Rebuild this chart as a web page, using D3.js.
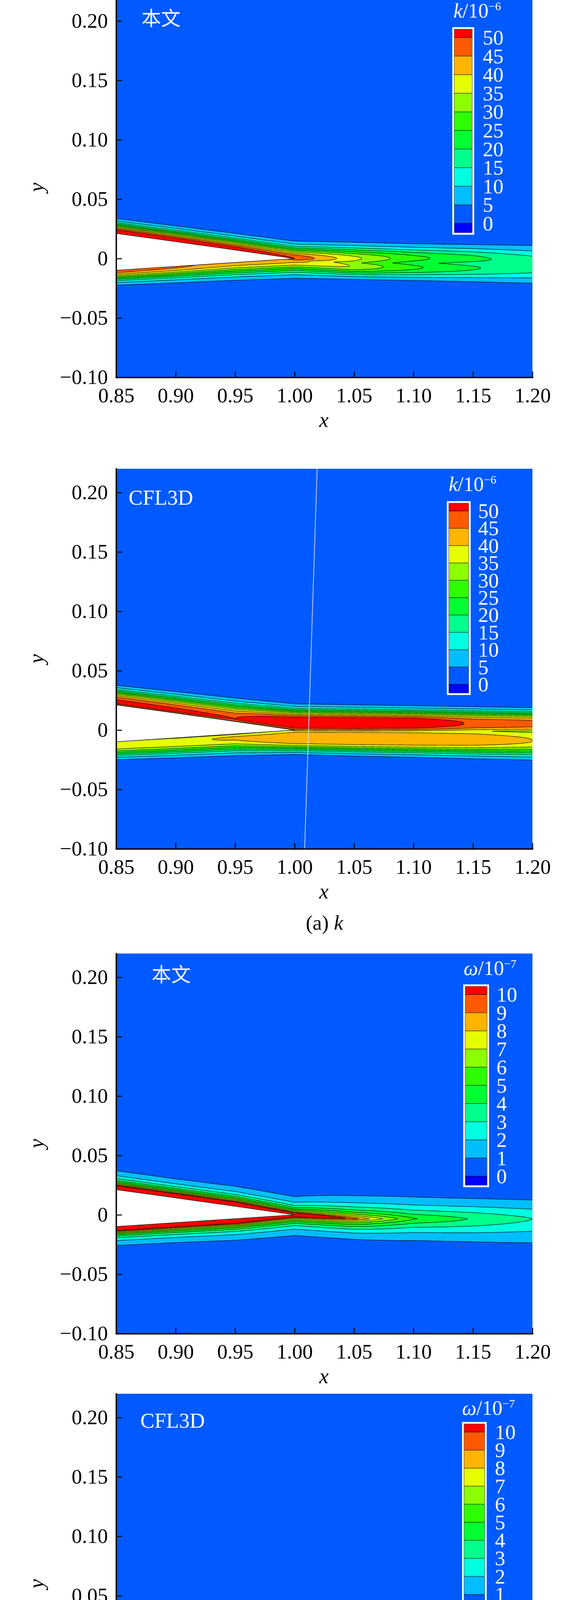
<!DOCTYPE html>
<html>
<head>
<meta charset="utf-8">
<script src="https://cdn.jsdelivr.net/npm/d3@7"></script>
<style>
  body { margin: 0; background: #fff; }
  text { font-family: "Liberation Serif", "Times New Roman", serif; }
</style>
</head>
<body>
<div id="chart"></div>
<script>
// ---- data ----
// x stations where the wake / boundary-layer profiles were read
const stations = [0.85, 0.90, 0.95, 1.00, 1.05, 1.10, 1.15, 1.20];

// trailing part of the airfoil
const foilX     = [0.85, 0.90, 0.95, 1.00];
const foilUpper = [0.0212, 0.0143, 0.0072, 0.0];
const foilLower = [-0.0099, -0.0066, -0.0033, 0.0];

const xTicks = [0.85, 0.90, 0.95, 1.00, 1.05, 1.10, 1.15, 1.20];
const yTicks = [-0.10, -0.05, 0, 0.05, 0.10, 0.15, 0.20];

const kLevels = [5, 10, 15, 20, 25, 30, 35, 40, 45, 50];
const kLegendLabels = [50, 45, 40, 35, 30, 25, 20, 15, 10, 5, 0];
const wLevels = [1, 2, 3, 4, 5, 6, 7, 8, 9, 10];
const wLegendLabels = [10, 9, 8, 7, 6, 5, 4, 3, 2, 1, 0];

// band colours, lowest band (background) first
const bandColors = ["#005AFF", "#00BEFF", "#00FFE1", "#00FF8C", "#00FF32",
                    "#2DFF00", "#8CFF00", "#E6FF00", "#FFB400", "#FF5A00", "#FF0000"];
const underColor = "#0000FF";

// profile parameters per station: peak position, peak value, outer / inner width, exponent
// (a) k, 本文
const kOursQ          = [2, 2, 2, 2, 2, 2, 2, 2];
const kOursUpperY     = [0.0212, 0.0143, 0.0072, 0.0, 0.0, 0.0003, 0.0, -0.002];
const kOursUpperPeak  = [57, 56, 54, 49, 35.5, 25.5, 20.5, 16];
const kOursUpperOut   = [0.0077, 0.0082, 0.0087, 0.0093, 0.0093, 0.009, 0.0092, 0.011];
const kOursUpperIn    = [0.003, 0.003, 0.003, 0.004, 0.009, 0.009, 0.009, 0.01];
const kOursLowerY     = [-0.0099, -0.0066, -0.0033, -0.001, -0.0066, -0.0075, -0.008, -0.008];
const kOursLowerPeak  = [47, 45, 42, 41, 33.5, 25, 19.5, 16];
const kOursLowerOut   = [0.008, 0.0089, 0.0098, 0.0102, 0.0075, 0.0081, 0.0091, 0.0108];
const kOursLowerIn    = [0.003, 0.003, 0.003, 0.004, 0.009, 0.009, 0.009, 0.01];
// (a) k, CFL3D
const kCflQ           = [2.5, 2.5, 2.5, 2.5, 2.5, 2.5, 2.5, 2.5];
const kCflUpperY      = [0.0232, 0.0163, 0.0092, 0.006, 0.0058, 0.0058, 0.0055, 0.0055];
const kCflUpperPeak   = [50.5, 50, 49, 56, 56, 55, 48, 46];
const kCflUpperOut    = [0.010, 0.0111, 0.0123, 0.0109, 0.0105, 0.010, 0.0099, 0.0094];
const kCflUpperIn     = [0.004, 0.004, 0.004, 0.0099, 0.0099, 0.0099, 0.0099, 0.0099];
const kCflLowerY      = [-0.012, -0.0095, -0.0065, -0.0078, -0.0082, -0.0085, -0.0088, -0.009];
const kCflLowerPeak   = [38, 38.2, 39.5, 43, 43.5, 43.5, 42.5, 39];
const kCflLowerOut    = [0.0094, 0.0101, 0.0108, 0.0091, 0.0097, 0.0102, 0.0109, 0.0117];
const kCflLowerIn     = [0.006, 0.006, 0.006, 0.0151, 0.0151, 0.0151, 0.0151, 0.0151];
// (b) omega, 本文
const wOursQ          = [0.8, 0.8, 0.8, 0.8, 1.0, 1.2, 1.4, 1.5];
const wOursUpperY     = [0.0212, 0.0143, 0.0072, 0.0, -0.0033, -0.0033, -0.0035, -0.0035];
const wOursUpperPeak  = [25, 25, 25, 15, 9.5, 5.1, 3.9, 3.0];
const wOursUpperOut   = [0.0037, 0.0037, 0.0039, 0.0044, 0.0086, 0.0122, 0.0138, 0.015];
const wOursUpperIn    = [0.001, 0.001, 0.001, 0.001, 0.001, 0.001, 0.001, 0.001];
const wOursLowerY     = [-0.0099, -0.0066, -0.0033, 0.0, -0.0033, -0.0033, -0.0035, -0.0035];
const wOursLowerPeak  = [25, 25, 25, 15, 9.5, 5.1, 3.9, 3.0];
const wOursLowerOut   = [0.0037, 0.0039, 0.0042, 0.005, 0.0077, 0.0122, 0.0154, 0.0188];
const wOursLowerIn    = [0.001, 0.001, 0.001, 0.001, 0.001, 0.001, 0.001, 0.001];
// (b) omega, CFL3D
const wCflQ           = [0.8, 0.8, 0.8, 0.8, 1.2, 1.5, 1.8, 2.0];
const wCflUpperY      = [0.0212, 0.0143, 0.0072, 0.0, 0.001, 0.002, 0.002, 0.002];
const wCflUpperPeak   = [25, 25, 25, 16, 6.5, 4.8, 4.0, 3.7];
const wCflUpperOut    = [0.0039, 0.0043, 0.0047, 0.0061, 0.0125, 0.0146, 0.0161, 0.0166];
const wCflUpperIn     = [0.001, 0.001, 0.001, 0.001, 0.012, 0.012, 0.012, 0.012];
const wCflLowerY      = [-0.0099, -0.0066, -0.0033, 0.0, -0.008, -0.009, -0.009, -0.009];
const wCflLowerPeak   = [25, 25, 25, 16, 6.2, 4.5, 3.8, 3.6];
const wCflLowerOut    = [0.0042, 0.0046, 0.005, 0.0064, 0.0094, 0.0118, 0.0139, 0.015];
const wCflLowerIn     = [0.001, 0.001, 0.001, 0.001, 0.012, 0.012, 0.012, 0.012];

// faint grid-block seam lines
const seamCflKX = [1.019, 1.0085], seamCflKY = [0.22, -0.10];
const seamCflWX = [1.0015, 0.9995], seamCflWY = [0.024, -0.022];

// ---- layout ----
const W = 1476, H = 4768;
const plotLeft = 297, plotRight = 1362, plotH = 973;

const panels = [
  { bottom: 966,  label: "本文", labelX: 362, labelY: 72, cjk: true,
    levels: kLevels, legendLabels: kLegendLabels, bg: 1, sym: "k", exp: "\u22126",
    field: { q: kOursQ, upper: [kOursUpperY, kOursUpperPeak, kOursUpperOut, kOursUpperIn],
             lower: [kOursLowerY, kOursLowerPeak, kOursLowerOut, kOursLowerIn] },
    legend: { x0: 1162, x1: 1208, b0: 103, step: 47.6, titleX: 1160, titleY: 52, labelX: 1235 } },
  { bottom: 2173, label: "CFL3D", labelX: 329, labelY: 92, cjk: false,
    levels: kLevels, legendLabels: kLegendLabels, bg: 1, sym: "k", exp: "\u22126",
    field: { q: kCflQ, upper: [kCflUpperY, kCflUpperPeak, kCflUpperOut, kCflUpperIn],
             lower: [kCflLowerY, kCflLowerPeak, kCflLowerOut, kCflLowerIn] },
    seam: [seamCflKX, seamCflKY], caption: ["(a) ", "k"],
    legend: { x0: 1148, x1: 1199, b0: 108, step: 44.4, titleX: 1148, titleY: 57, labelX: 1223 } },
  { bottom: 3414, label: "本文", labelX: 388, labelY: 72, cjk: true,
    levels: wLevels, legendLabels: wLegendLabels, bg: 0, sym: "\u03C9", exp: "\u22127",
    field: { q: wOursQ, upper: [wOursUpperY, wOursUpperPeak, wOursUpperOut, wOursUpperIn],
             lower: [wOursLowerY, wOursLowerPeak, wOursLowerOut, wOursLowerIn] },
    legend: { x0: 1190, x1: 1246, b0: 105, step: 46.5, titleX: 1186, titleY: 55, labelX: 1270 } },
  { bottom: 4541, label: "CFL3D", labelX: 359, labelY: 87, cjk: false,
    levels: wLevels, legendLabels: wLegendLabels, bg: 0, sym: "\u03C9", exp: "\u22127",
    field: { q: wCflQ, upper: [wCflUpperY, wCflUpperPeak, wCflUpperOut, wCflUpperIn],
             lower: [wCflLowerY, wCflLowerPeak, wCflLowerOut, wCflLowerIn] },
    seam: [seamCflWX, seamCflWY], caption: ["(b) ", "\u03C9"],
    legend: { x0: 1187, x1: 1240, b0: 98, step: 46.2, titleX: 1182, titleY: 54, labelX: 1266 } }
];

// sampling grid for the contour field (a bit wider than the plot so edges stay hidden)
const gx0 = 0.84, gx1 = 1.21, gdx = 0.001;
const gy0 = -0.045, gy1 = 0.05, gdy = 0.00025;
const gridN = Math.round((gx1 - gx0) / gdx) + 1;
const gridM = Math.round((gy1 - gy0) / gdy) + 1;

const x = d3.scaleLinear().domain([0.85, 1.20]).range([plotLeft, plotRight]);

function stationScale(arr) {
  return d3.scaleLinear().domain(stations).range(arr).clamp(true);
}
// peaks are interpolated geometrically between stations
function peakScale(arr) {
  const s = stationScale(arr.map(Math.log));
  return v => Math.exp(s(v));
}

function buildField(f, bg) {
  const q = stationScale(f.q);
  const uy = stationScale(f.upper[0]), up = peakScale(f.upper[1]);
  const uo = stationScale(f.upper[2]), ui = stationScale(f.upper[3]);
  const ly = stationScale(f.lower[0]), lp = peakScale(f.lower[1]);
  const lo = stationScale(f.lower[2]), li = stationScale(f.lower[3]);
  const values = new Float64Array(gridN * gridM);
  for (let i = 0; i < gridN; i++) {
    const xv = gx0 + i * gdx;
    const qq = q(xv);
    const cu = uy(xv), pu = up(xv), wou = uo(xv), wiu = ui(xv);
    const cl = ly(xv), pl = lp(xv), wol = lo(xv), wil = li(xv);
    for (let j = 0; j < gridM; j++) {
      const yv = gy1 - j * gdy;
      const vu = yv >= cu ? pu * Math.exp(-Math.pow((yv - cu) / wou, qq))
                          : pu * Math.exp(-Math.pow((cu - yv) / wiu, qq));
      const vl = yv <= cl ? pl * Math.exp(-Math.pow((cl - yv) / wol, qq))
                          : pl * Math.exp(-Math.pow((yv - cl) / wil, qq));
      values[i + j * gridN] = bg + Math.max(vu, vl);
    }
  }
  return values;
}

const svg = d3.select("#chart").append("svg")
  .attr("width", W).attr("height", H)
  .style("display", "block");

panels.forEach((pn, idx) => {
  const top = pn.bottom - plotH;
  const y = d3.scaleLinear().domain([-0.10, 0.22]).range([pn.bottom, top]);
  const g = svg.append("g");

  const clipId = "clip" + idx;
  svg.append("clipPath").attr("id", clipId)
    .append("rect").attr("x", plotLeft).attr("y", top)
    .attr("width", plotRight - plotLeft).attr("height", plotH);

  const plot = g.append("g").attr("clip-path", `url(#${clipId})`);
  plot.append("rect").attr("x", plotLeft).attr("y", top)
    .attr("width", plotRight - plotLeft).attr("height", plotH)
    .attr("fill", bandColors[0]);

  // filled contour bands
  const values = buildField(pn.field, pn.bg);
  const bands = d3.contours().size([gridN, gridM]).thresholds(pn.levels)(values);
  const proj = d3.geoTransform({
    point(px, py) {
      this.stream.point(x(gx0 + (px - 0.5) * gdx), y(gy1 - (py - 0.5) * gdy));
    }
  });
  const path = d3.geoPath(proj);

  plot.append("g").selectAll("path").data(bands).join("path")
    .attr("d", path)
    .attr("fill", (d, i) => bandColors[i + 1])
    .attr("fill-rule", "evenodd")
    .attr("stroke", "none");
  plot.append("g").selectAll("path").data(bands).join("path")
    .attr("d", path)
    .attr("fill", "none")
    .attr("stroke", "#000")
    .attr("stroke-opacity", 0.8)
    .attr("stroke-width", 1.4);

  // airfoil
  const upperPts = foilX.map((fx, i) => [fx, foilUpper[i]]);
  const lowerPts = foilX.map((fx, i) => [fx, foilLower[i]]).reverse();
  const line = d3.line().x(d => x(d[0])).y(d => y(d[1]));
  plot.append("path").attr("d", line(upperPts.concat(lowerPts)) + "Z")
    .attr("fill", "#fff");
  plot.append("path").attr("d", line(upperPts.concat(lowerPts)))
    .attr("fill", "none").attr("stroke", "#222").attr("stroke-width", 1.6);

  if (pn.seam) {
    const [sx, sy] = pn.seam;
    plot.append("path")
      .attr("d", line(sx.map((v, i) => [v, sy[i]])))
      .attr("stroke", "#cfe0ff").attr("stroke-opacity", 0.8)
      .attr("stroke-width", 2.2).attr("fill", "none");
  }

  // axes
  const xAxis = d3.axisBottom(x).tickValues(xTicks).tickFormat(d3.format(".2f"))
    .tickSizeInner(-15).tickSizeOuter(0).tickPadding(26);
  const yAxis = d3.axisLeft(y).tickValues(yTicks)
    .tickFormat(v => v === 0 ? "0" : d3.format(".2f")(v))
    .tickSizeInner(-15).tickSizeOuter(0).tickPadding(21);

  [[xAxis, `translate(0,${pn.bottom})`], [yAxis, `translate(${plotLeft},0)`]].forEach(([ax, tr]) => {
    g.append("g").attr("transform", tr).call(ax)
      .attr("font-size", 53).attr("font-family", "Liberation Serif, serif")
      .call(a => a.select(".domain").attr("stroke-width", 3.5).attr("stroke-linecap", "square"))
      .call(a => a.selectAll(".tick line").attr("stroke-width", 2.5))
      .call(a => a.selectAll(".tick text").attr("fill", "#000"));
  });

  g.append("text").attr("x", (plotLeft + plotRight) / 2 - 1).attr("y", pn.bottom + 127)
    .attr("text-anchor", "middle").attr("font-size", 54).attr("font-style", "italic").text("x");
  g.append("text")
    .attr("transform", `translate(111,${(top + pn.bottom) / 2}) rotate(-90)`)
    .attr("text-anchor", "middle").attr("font-size", 54).attr("font-style", "italic").text("y");

  // panel label
  g.append("text").attr("x", pn.labelX).attr("y", top + pn.labelY)
    .attr("fill", "#fff")
    .attr("font-size", pn.cjk ? 50 : 54)
    .style("font-family", pn.cjk ? "'Noto Sans CJK SC', sans-serif" : "'Liberation Serif', serif")
    .text(pn.label);

  // legend
  const lg = pn.legend;
  const n = pn.legendLabels.length;
  const patchTop = top + lg.b0 - 0.45 * lg.step;
  const patchBottom = top + lg.b0 + (n - 1) * lg.step + 0.5 * lg.step;
  const leg = g.append("g");
  leg.append("rect").attr("x", lg.x0 - 5).attr("y", patchTop - 5)
    .attr("width", lg.x1 - lg.x0 + 10).attr("height", patchBottom - patchTop + 10)
    .attr("fill", "#fff");
  const patchColors = bandColors.slice().reverse().concat([underColor]);
  const edges = [patchTop].concat(d3.range(n).map(i => top + lg.b0 + i * lg.step), [patchBottom]);
  leg.selectAll("rect.patch").data(patchColors).join("rect")
    .attr("class", "patch")
    .attr("x", lg.x0).attr("width", lg.x1 - lg.x0)
    .attr("y", (d, i) => edges[i]).attr("height", (d, i) => edges[i + 1] - edges[i])
    .attr("fill", d => d);
  leg.selectAll("line.sep").data(d3.range(n)).join("line")
    .attr("class", "sep")
    .attr("x1", lg.x0).attr("x2", lg.x1)
    .attr("y1", i => top + lg.b0 + i * lg.step).attr("y2", i => top + lg.b0 + i * lg.step)
    .attr("stroke", "#000").attr("stroke-opacity", 0.55).attr("stroke-width", 2);
  leg.append("rect").attr("x", lg.x0).attr("y", patchTop)
    .attr("width", lg.x1 - lg.x0).attr("height", patchBottom - patchTop)
    .attr("fill", "none").attr("stroke", "#555").attr("stroke-width", 1.2);
  leg.selectAll("text.lab").data(pn.legendLabels).join("text")
    .attr("class", "lab")
    .attr("x", lg.labelX).attr("y", (d, i) => top + lg.b0 + i * lg.step)
    .attr("dy", "0.34em").attr("fill", "#fff").attr("font-size", 53)
    .text(d => d);
  const title = leg.append("text").attr("x", lg.titleX).attr("y", top + lg.titleY)
    .attr("fill", "#fff").attr("font-size", 52);
  title.append("tspan").attr("font-style", "italic").text(pn.sym);
  title.append("tspan").text("/10");
  title.append("tspan").attr("font-size", 30).attr("dy", -19).text(pn.exp);

  // caption under the second panel of each pair
  if (pn.caption) {
    const c = svg.append("text").attr("x", 830).attr("y", pn.bottom + 207)
      .attr("text-anchor", "middle").attr("font-size", 53);
    c.append("tspan").text(pn.caption[0]);
    c.append("tspan").attr("font-style", "italic").text(pn.caption[1]);
  }
});
</script>
</body>
</html>
